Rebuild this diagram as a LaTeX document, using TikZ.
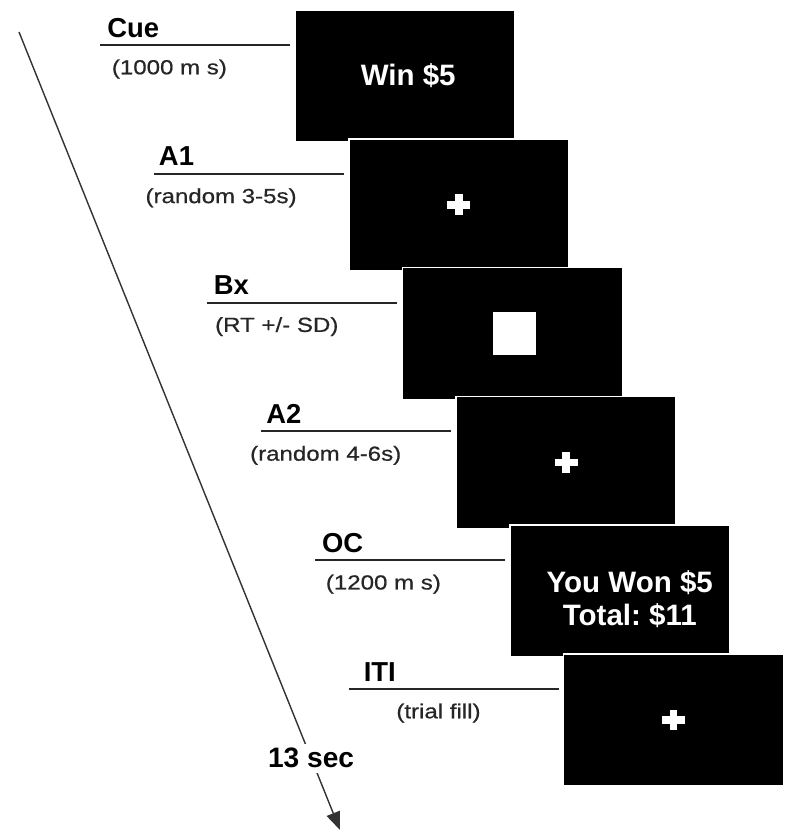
\documentclass[tikz,border=0pt]{standalone}
\usepackage{fontspec}
\setmainfont{Liberation Sans}
\newfontfamily\durfont[FakeStretch=1.18,FakeBold=0.6]{Liberation Sans}
\usepackage{tikz}
\usetikzlibrary{arrows.meta,positioning,calc}

\tikzset{
  fixcross/.pic={
    \fill[white] (-0.285,-0.095) rectangle (0.285,0.095);
    \fill[white] (-0.095,-0.26) rectangle (0.095,0.26);
  }
}

\begin{document}
\begin{tikzpicture}[
  screen/.style={fill=black,draw=white,line width=1.2pt,minimum width=5.5cm,minimum height=3.3cm,inner sep=0pt},
  scrtxt/.style={text=white,font=\bfseries\fontsize{21}{24}\selectfont,align=center},
  stagelab/.style={font=\bfseries\fontsize{19.5}{22}\selectfont,anchor=base west,inner sep=0pt},
  dur/.style={font=\durfont\fontsize{14.5}{16}\selectfont,inner sep=0pt,text=black!85},
  uline/.style={line width=1.3pt,draw=black!85}
]
\useasboundingbox (0,0) rectangle (20,-21);
% time axis
\coordinate (t0) at (0.475,-0.8);
\coordinate (t1) at (8.5,-20.75);
\draw[line width=1pt,draw=black!80,-{Triangle[width=0.35cm,length=0.45cm]}]
  (t0) -- node[pos=0.91,fill=white,font=\bfseries\fontsize{20}{22}\selectfont] (tsec) {13 sec} (t1);
\begin{scope}[shift={(10.125,-1.9)}]
  \node[screen] (cue) at (0,0) {};
  \node[scrtxt] (cuetxt) at (0.08,0) {Win \$5};
  \coordinate (cuel) at (-7.625,0.775);
  \coordinate (cuer) at (-2.875,0.775);
  \draw[uline] (cuel) -- (cuer);
  \node[stagelab] (cuelab) at (-7.45,0.975) {Cue};
  \node[dur] (cuedur) at (-5.89,0.175) {(1000 m s)};
\end{scope}
\begin{scope}[shift={(11.4675,-5.12)}]
  \node[screen] (aone) at (0,0) {};
  \pic at (aone.center) {fixcross};
  \coordinate (aonel) at (-7.625,0.775);
  \coordinate (aoner) at (-2.875,0.775);
  \draw[uline] (aonel) -- (aoner);
  \node[stagelab] (aonelab) at (-7.5,0.975) {A1};
  \node[dur] (aonedur) at (-5.94,0.175) {(random 3-5s)};
\end{scope}
\begin{scope}[shift={(12.81,-8.34)}]
  \node[screen] (bx) at (0,0) {};
  \node[fill=white,minimum size=1.075cm,inner sep=0pt] (bxsq) at (0.06,0) {};
  \coordinate (bxl) at (-7.625,0.775);
  \coordinate (bxr) at (-2.875,0.775);
  \draw[uline] (bxl) -- (bxr);
  \node[stagelab] (bxlab) at (-7.47,0.975) {Bx};
  \node[dur] (bxdur) at (-5.89,0.175) {(RT +/- SD)};
\end{scope}
\begin{scope}[shift={(14.1525,-11.56)}]
  \node[screen] (atwo) at (0,0) {};
  \pic at (atwo.center) {fixcross};
  \coordinate (atwol) at (-7.625,0.775);
  \coordinate (atwor) at (-2.875,0.775);
  \draw[uline] (atwol) -- (atwor);
  \node[stagelab] (atwolab) at (-7.5,0.975) {A2};
  \node[dur] (atwodur) at (-6.01,0.175) {(random 4-6s)};
\end{scope}
\begin{scope}[shift={(15.495,-14.78)}]
  \node[screen] (oc) at (0,0) {};
  \node[scrtxt] (octxt) at (0.25,-0.2) {You Won \$5\\Total:~\$11};
  \coordinate (ocl) at (-7.625,0.775);
  \coordinate (ocr) at (-2.875,0.775);
  \draw[uline] (ocl) -- (ocr);
  \node[stagelab] (oclab) at (-7.45,0.975) {OC};
  \node[dur] (ocdur) at (-5.91,0.175) {(1200 m s)};
\end{scope}
\begin{scope}[shift={(16.8375,-18.0)}]
  \node[screen] (iti) at (0,0) {};
  \pic at (iti.center) {fixcross};
  \coordinate (itil) at (-8.125,0.775);
  \coordinate (itir) at (-2.875,0.775);
  \draw[uline] (itil) -- (itir);
  \node[stagelab] (itilab) at (-7.75,0.975) {ITI};
  \node[dur] (itidur) at (-5.875,0.175) {(trial fill)};
\end{scope}
\end{tikzpicture}
\end{document}
